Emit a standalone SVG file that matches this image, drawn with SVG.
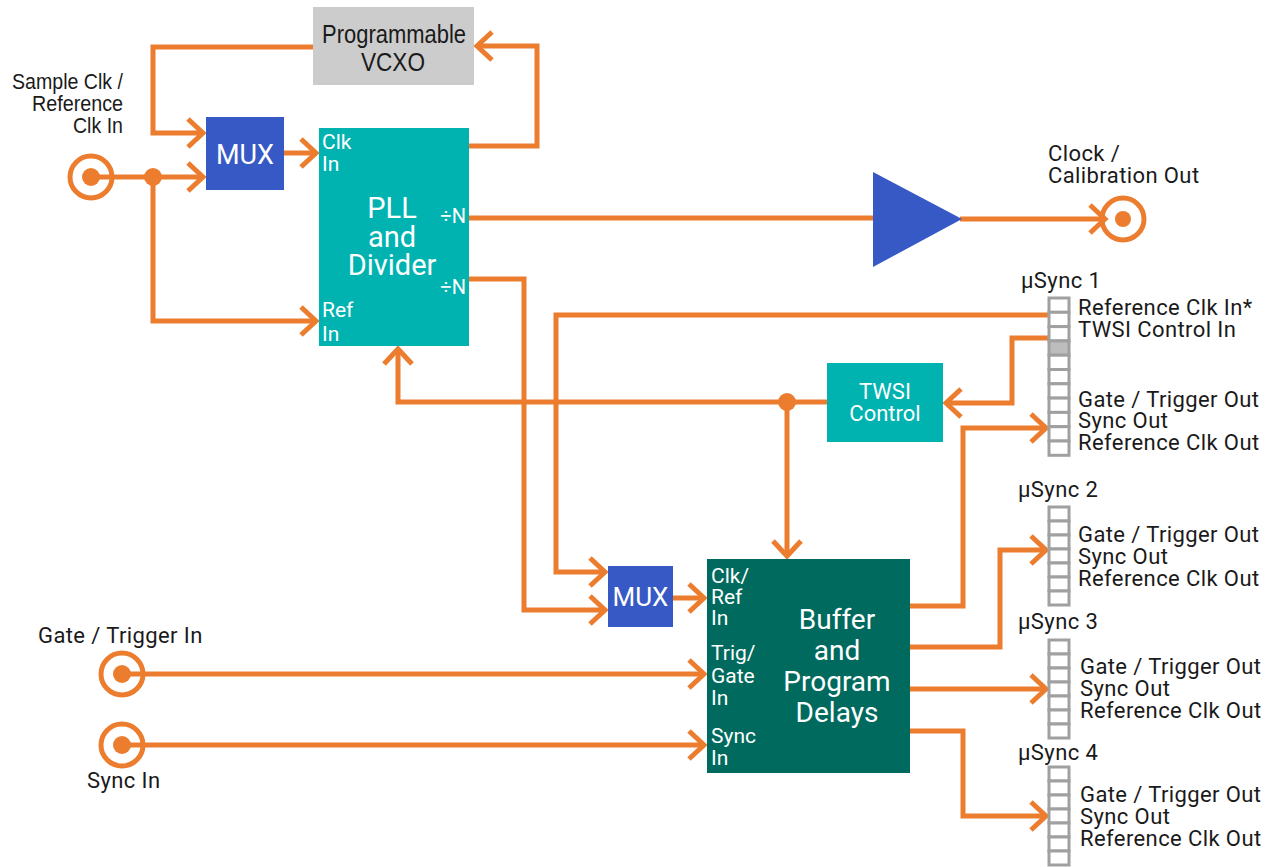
<svg xmlns="http://www.w3.org/2000/svg" width="1271" height="867" viewBox="0 0 1271 867">
<style>
.c{fill:none;stroke:#EC7D2F;stroke-width:5;stroke-linejoin:miter}
.dot{fill:#EC7D2F}
.ring{fill:#fff;stroke:#EC7D2F;stroke-width:5}
.t{font-family:Roboto,"Liberation Sans",sans-serif;font-size:22px;letter-spacing:0.4px;fill:#1a1a1a}
.n{font-family:"Liberation Sans",Arial,sans-serif;fill:#1a1a1a}
.w{font-family:Roboto,"Liberation Sans",sans-serif;fill:#fff}
.s{font-size:21px}
.b{font-size:29px}
.m{text-anchor:middle}
.cell{fill:#fff;stroke:#A0A0A0;stroke-width:3}
.cellg{fill:#BDBDBD;stroke:#A0A0A0;stroke-width:3}
</style>
<defs>
<marker id="ah" markerUnits="userSpaceOnUse" viewBox="-20 -20 30 40" refX="0" refY="0" markerWidth="30" markerHeight="40" orient="auto" overflow="visible">
<path d="M-15,-14 L0,0 L-15,14" fill="none" stroke="#EC7D2F" stroke-width="5"/>
</marker>
</defs>

<g id="connectors">
<path class="c" d="M313,47 H153 V133 H203" marker-end="url(#ah)"/>
<path class="c" d="M91,177 H203" marker-end="url(#ah)"/>
<path class="c" d="M153,177 V321 H316" marker-end="url(#ah)"/>
<path class="c" d="M284,153 H316" marker-end="url(#ah)"/>
<path class="c" d="M469,146 H537 V46 H477" marker-end="url(#ah)"/>
<path class="c" d="M469,218 H875"/>
<path class="c" d="M960,219 H1105" marker-end="url(#ah)"/>
<path class="c" d="M469,279 H524 V610 H605" marker-end="url(#ah)"/>
<path class="c" d="M1049,315 H556 V572 H605" marker-end="url(#ah)"/>
<path class="c" d="M1049,338 H1012 V403 H946" marker-end="url(#ah)"/>
<path class="c" d="M828,402 H398 V349" marker-end="url(#ah)"/>
<path class="c" d="M787,402 V556" marker-end="url(#ah)"/>
<path class="c" d="M673,598 H704" marker-end="url(#ah)"/>
<path class="c" d="M122,674 H704" marker-end="url(#ah)"/>
<path class="c" d="M122,745 H704" marker-end="url(#ah)"/>
<path class="c" d="M910,606 H963 V428 H1046" marker-end="url(#ah)"/>
<path class="c" d="M910,647 H1000 V550 H1046" marker-end="url(#ah)"/>
<path class="c" d="M910,689 H1046" marker-end="url(#ah)"/>
<path class="c" d="M910,731 H963 V816 H1046" marker-end="url(#ah)"/>
<circle class="dot" cx="153" cy="177" r="9"/>
<circle class="dot" cx="787" cy="402" r="9"/>
</g>

<g id="sample-in">
<circle class="ring" cx="91" cy="177" r="21"/>
<circle class="dot" cx="91" cy="177" r="9"/>
<path class="c" d="M91,177 H112"/>
<text class="n" font-size="22" text-anchor="end" x="123" y="89" textLength="111" lengthAdjust="spacingAndGlyphs">Sample Clk /</text>
<text class="n" font-size="22" text-anchor="end" x="123" y="111" textLength="91" lengthAdjust="spacingAndGlyphs">Reference</text>
<text class="n" font-size="22" text-anchor="end" x="123" y="133" textLength="50" lengthAdjust="spacingAndGlyphs">Clk In</text>
</g>

<g id="vcxo">
<rect x="313" y="7" width="161" height="78" fill="#CCCCCC"/>
<text class="n" font-size="25" x="322" y="43" textLength="144" lengthAdjust="spacingAndGlyphs">Programmable</text>
<text class="n" font-size="25" x="361" y="71" textLength="64" lengthAdjust="spacingAndGlyphs">VCXO</text>
</g>

<g id="mux1">
<rect x="206" y="117" width="78" height="73" fill="#3759C5"/>
<text class="w m" font-size="27" x="245" y="164">MUX</text>
</g>

<g id="pll">
<rect x="319" y="128" width="150" height="218" fill="#00B3B1"/>
<text class="w s" x="322" y="149">Clk</text>
<text class="w s" x="322" y="171">In</text>
<text class="w b m" x="392" y="218">PLL</text>
<text class="w b m" x="392" y="247">and</text>
<text class="w b m" x="392" y="275">Divider</text>
<text class="w" font-size="20" text-anchor="end" x="466" y="223">÷N</text>
<text class="w" font-size="20" text-anchor="end" x="466" y="294">÷N</text>
<text class="w s" x="322" y="317">Ref</text>
<text class="w s" x="322" y="341">In</text>
</g>

<g id="amplifier">
<polygon points="873,172 873,267 962,219" fill="#3759C5"/>
</g>

<g id="clock-out">
<circle cx="1123" cy="219" r="21" fill="none" stroke="#EC7D2F" stroke-width="5"/>
<circle class="dot" cx="1123" cy="219" r="8"/>
<text class="t" x="1048" y="161">Clock /</text>
<text class="t" x="1048" y="183">Calibration Out</text>
</g>

<g id="twsi">
<rect x="827" y="363" width="116" height="79" fill="#00B3B1"/>
<text class="w m" font-size="22" x="885" y="399">TWSI</text>
<text class="w m" font-size="22" x="885" y="421">Control</text>
</g>

<g id="mux2">
<rect x="608" y="566" width="65" height="61" fill="#3759C5"/>
<text class="w m" font-size="26" x="640.5" y="606">MUX</text>
</g>

<g id="buffer">
<rect x="707" y="559" width="203" height="214" fill="#006A5E"/>
<text class="w s" x="711" y="583">Clk/</text>
<text class="w s" x="711" y="604">Ref</text>
<text class="w s" x="711" y="625">In</text>
<text class="w s" x="711" y="660">Trig/</text>
<text class="w s" x="711" y="683">Gate</text>
<text class="w s" x="711" y="705">In</text>
<text class="w s" x="711" y="743">Sync</text>
<text class="w s" x="711" y="765">In</text>
<text class="w m" font-size="28" x="837" y="629">Buffer</text>
<text class="w m" font-size="28" x="837" y="660">and</text>
<text class="w m" font-size="28" x="837" y="691">Program</text>
<text class="w m" font-size="28" x="837" y="722">Delays</text>
</g>

<g id="gate-in">
<circle class="ring" cx="122" cy="674" r="21"/>
<circle class="dot" cx="122" cy="674" r="9"/>
<path class="c" d="M122,674 H143"/>
<text class="t" x="38" y="643">Gate / Trigger In</text>
</g>

<g id="sync-in">
<circle class="ring" cx="122" cy="745" r="21"/>
<circle class="dot" cx="122" cy="745" r="9"/>
<path class="c" d="M122,745 H143"/>
<text class="t" x="87" y="788">Sync In</text>
</g>

<g id="usync1">
<text class="t" x="1021" y="288">µSync 1</text>
<rect class="cell" x="1049" y="298" width="20" height="14.3"/>
<rect class="cell" x="1049" y="312.3" width="20" height="14.3"/>
<rect class="cell" x="1049" y="326.6" width="20" height="14.3"/>
<rect class="cellg" x="1049" y="340.9" width="20" height="14.3"/>
<rect class="cell" x="1049" y="355.2" width="20" height="14.3"/>
<rect class="cell" x="1049" y="369.5" width="20" height="14.3"/>
<rect class="cell" x="1049" y="383.8" width="20" height="14.3"/>
<rect class="cell" x="1049" y="398.1" width="20" height="14.3"/>
<rect class="cell" x="1049" y="412.4" width="20" height="14.3"/>
<rect class="cell" x="1049" y="426.7" width="20" height="14.3"/>
<rect class="cell" x="1049" y="441" width="20" height="14.3"/>
<text class="t" x="1078" y="315">Reference Clk In*</text>
<text class="t" x="1078" y="337">TWSI Control In</text>
<text class="t" x="1078" y="407">Gate / Trigger Out</text>
<text class="t" x="1078" y="428">Sync Out</text>
<text class="t" x="1078" y="450">Reference Clk Out</text>
</g>

<g id="usync2">
<text class="t" x="1018" y="497">µSync 2</text>
<rect class="cell" x="1049" y="507" width="20" height="14"/>
<rect class="cell" x="1049" y="521" width="20" height="14"/>
<rect class="cell" x="1049" y="535" width="20" height="14"/>
<rect class="cell" x="1049" y="549" width="20" height="14"/>
<rect class="cell" x="1049" y="563" width="20" height="14"/>
<rect class="cell" x="1049" y="577" width="20" height="14"/>
<rect class="cell" x="1049" y="591" width="20" height="14"/>
<text class="t" x="1078" y="542">Gate / Trigger Out</text>
<text class="t" x="1078" y="564">Sync Out</text>
<text class="t" x="1078" y="586">Reference Clk Out</text>
</g>

<g id="usync3">
<text class="t" x="1018" y="629">µSync 3</text>
<rect class="cell" x="1049" y="640" width="20" height="14"/>
<rect class="cell" x="1049" y="654" width="20" height="14"/>
<rect class="cell" x="1049" y="668" width="20" height="14"/>
<rect class="cell" x="1049" y="682" width="20" height="14"/>
<rect class="cell" x="1049" y="696" width="20" height="14"/>
<rect class="cell" x="1049" y="710" width="20" height="14"/>
<rect class="cell" x="1049" y="724" width="20" height="14"/>
<text class="t" x="1080" y="674">Gate / Trigger Out</text>
<text class="t" x="1080" y="696">Sync Out</text>
<text class="t" x="1080" y="718">Reference Clk Out</text>
</g>

<g id="usync4">
<text class="t" x="1018" y="760">µSync 4</text>
<rect class="cell" x="1049" y="767" width="20" height="14"/>
<rect class="cell" x="1049" y="781" width="20" height="14"/>
<rect class="cell" x="1049" y="795" width="20" height="14"/>
<rect class="cell" x="1049" y="809" width="20" height="14"/>
<rect class="cell" x="1049" y="823" width="20" height="14"/>
<rect class="cell" x="1049" y="837" width="20" height="14"/>
<rect class="cell" x="1049" y="851" width="20" height="14"/>
<text class="t" x="1080" y="802">Gate / Trigger Out</text>
<text class="t" x="1080" y="824">Sync Out</text>
<text class="t" x="1080" y="846">Reference Clk Out</text>
</g>
</svg>
